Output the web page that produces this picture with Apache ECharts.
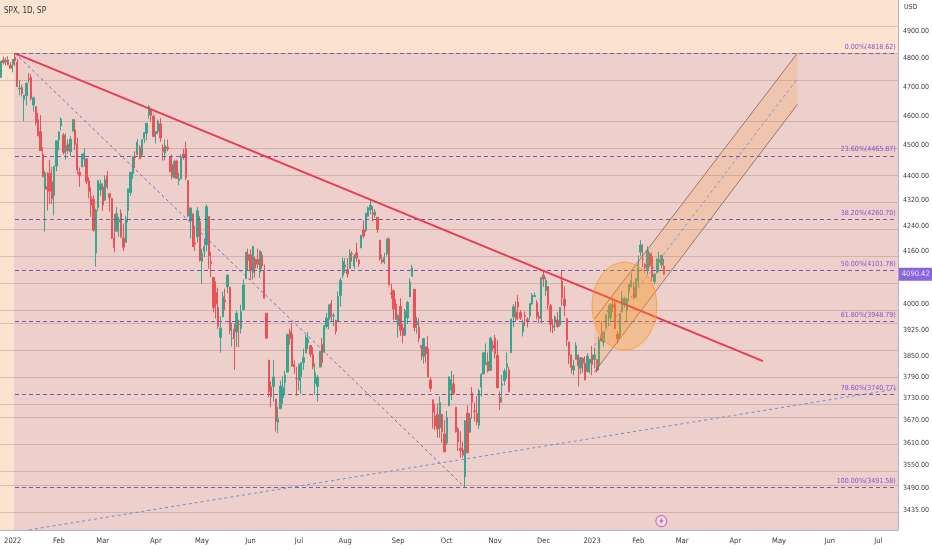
<!DOCTYPE html>
<html>
<head>
<meta charset="utf-8">
<script src="https://cdn.jsdelivr.net/npm/echarts@6/dist/echarts.min.js"></script>
<style>
html, body { margin: 0; padding: 0; background: #fff; }
#chart { width: 932px; height: 550px; }
</style>
</head>
<body>
<div id="chart"></div>
<script>
'use strict';

// SPX daily candles [open, close, low, high], 27 Dec 2021 .. 16 Feb 2023
var candles = [
    [4733,4791,4733,4791],[4795,4786,4778,4807],[4788,4793,4775,4804],[4795,4778,4776,4808],[4776,4766,4765,4787],
    // 2022 Jan
    [4778,4797,4751,4797],[4804,4793,4774,4819],[4787,4701,4700,4798],[4693,4696,4671,4725],[4698,4677,4667,4708],
    [4655,4670,4582,4673],[4670,4713,4636,4714],[4729,4726,4715,4749],[4733,4659,4653,4744],[4637,4662,4614,4666],
    [4632,4577,4568,4632],[4588,4533,4531,4611],[4547,4483,4483,4603],[4471,4398,4395,4495],[4357,4410,4222,4417],
    [4366,4356,4288,4412],[4408,4350,4309,4453],[4381,4326,4309,4429],[4337,4432,4273,4432],[4432,4516,4415,4516],
    // Feb
    [4519,4546,4484,4546],[4566,4589,4551,4595],[4535,4477,4470,4542],[4482,4501,4453,4540],[4505,4484,4473,4521],
    [4480,4521,4465,4531],[4548,4587,4548,4590],[4553,4504,4485,4589],[4506,4419,4407,4526],[4412,4401,4364,4427],
    [4429,4472,4429,4472],[4455,4475,4429,4490],[4456,4381,4373,4456],[4385,4349,4327,4395],[4332,4305,4268,4363],
    [4324,4226,4222,4337],[4155,4289,4114,4294],[4298,4385,4286,4385],[4354,4374,4335,4388],
    // Mar
    [4364,4306,4287,4375],[4322,4387,4319,4401],[4401,4364,4357,4416],[4342,4329,4285,4343],[4327,4201,4199,4327],
    [4202,4171,4157,4277],[4223,4278,4223,4299],[4253,4260,4206,4268],[4280,4204,4203,4292],[4202,4173,4162,4247],
    [4188,4262,4188,4272],[4288,4358,4251,4358],[4346,4412,4335,4412],[4407,4463,4390,4465],[4462,4461,4425,4481],
    [4469,4512,4469,4522],[4494,4456,4456,4501],[4469,4520,4465,4520],[4523,4543,4508,4546],[4541,4575,4517,4575],
    [4603,4632,4589,4637],[4624,4602,4581,4627],[4599,4530,4530,4604],
    // Apr
    [4540,4546,4507,4549],[4547,4583,4539,4587],[4573,4525,4513,4593],[4494,4481,4450,4504],[4475,4500,4451,4521],
    [4495,4488,4481,4520],[4462,4413,4412,4464],[4437,4397,4388,4471],[4394,4447,4392,4453],[4449,4392,4392,4453],
    [4385,4391,4370,4410],[4390,4463,4390,4471],[4472,4459,4453,4489],[4490,4394,4386,4513],[4385,4272,4268,4385],
    [4255,4296,4200,4300],[4278,4175,4175,4278],[4187,4183,4161,4240],[4206,4288,4187,4299],[4253,4132,4129,4270],
    // May
    [4130,4155,4062,4169],[4160,4175,4143,4200],[4181,4300,4160,4308],[4270,4147,4107,4270],[4129,4123,4082,4158],
    [4081,3991,3976,4081],[4035,4001,3958,4069],[3991,3935,3928,4050],[3903,3930,3859,3965],[3963,4023,3963,4038],
    [4013,4008,3983,4047],[4052,4088,4033,4090],[4051,3923,3912,4051],[3900,3901,3877,3946],[3927,3901,3810,3943],
    [3919,3974,3876,3981],[3942,3941,3875,3955],[3929,3979,3914,3999],[3984,4058,3984,4075],[4077,4158,4077,4158],
    [4151,4132,4100,4169],
    // Jun
    [4150,4101,4073,4166],[4096,4176,4074,4177],[4137,4109,4080,4143],[4135,4121,4108,4169],[4097,4161,4080,4164],
    [4148,4116,4107,4160],[4101,4018,4017,4120],[3974,3901,3900,3974],[3838,3750,3734,3838],[3763,3735,3706,3778],
    [3764,3790,3722,3838],[3729,3667,3640,3729],[3665,3675,3636,3707],[3702,3765,3702,3780],[3733,3760,3716,3792],
    [3775,3796,3743,3808],[3804,3912,3804,3914],[3920,3900,3882,3928],[3913,3821,3820,3945],[3826,3819,3799,3837],
    [3786,3785,3738,3819],
    // Jul
    [3781,3825,3752,3829],[3792,3831,3743,3832],[3831,3845,3810,3871],[3858,3903,3858,3910],[3888,3899,3870,3919],
    [3880,3855,3847,3880],[3854,3819,3812,3875],[3772,3802,3741,3829],[3764,3790,3722,3796],[3818,3863,3818,3864],
    [3883,3831,3818,3902],[3860,3937,3860,3940],[3935,3960,3929,3975],[3955,3999,3927,3999],[4003,3962,3951,4013],
    [3966,3967,3936,3975],[3953,3921,3911,3954],[3951,4024,3951,4039],[4026,4072,3993,4079],[4087,4130,4078,4141],
    // Aug
    [4113,4119,4094,4140],[4105,4091,4080,4140],[4108,4155,4108,4168],[4154,4152,4129,4161],[4115,4145,4107,4151],
    [4156,4140,4129,4187],[4133,4122,4112,4137],[4171,4210,4171,4211],[4227,4208,4201,4257],[4225,4280,4220,4280],
    [4270,4297,4268,4301],[4291,4305,4276,4325],[4281,4275,4254,4302],[4273,4284,4265,4293],[4267,4228,4218,4267],
    [4195,4138,4132,4195],[4134,4128,4122,4150],[4127,4141,4121,4156],[4153,4199,4147,4200],[4199,4058,4057,4204],
    [4034,4031,4017,4062],[4041,3986,3954,4044],[4001,3955,3954,4015],
    // Sep
    [3937,3967,3903,3971],[3994,3924,3907,4018],[3930,3909,3886,3942],[3910,3980,3907,3987],[3960,4006,3942,4010],
    [4022,4067,4022,4077],[4084,4110,4084,4119],[4045,3932,3921,4045],[3940,3946,3914,3962],[3932,3901,3889,3959],
    [3880,3873,3838,3880],[3849,3900,3828,3900],[3876,3856,3831,3876],[3871,3790,3790,3907],[3782,3758,3749,3790],
    [3727,3693,3648,3727],[3682,3655,3644,3716],[3686,3647,3624,3717],[3651,3719,3623,3736],[3687,3640,3610,3687],
    [3633,3586,3584,3672],
    // Oct
    [3610,3678,3604,3696],[3710,3791,3710,3791],[3753,3783,3726,3807],[3771,3744,3740,3797],[3706,3640,3637,3706],
    [3647,3612,3588,3652],[3595,3589,3570,3641],[3590,3577,3571,3613],[3520,3669,3492,3672],[3690,3583,3582,3712],
    [3638,3677,3638,3690],[3746,3720,3675,3762],[3696,3695,3667,3719],[3689,3666,3657,3737],[3657,3752,3647,3757],
    [3762,3797,3735,3801],[3799,3859,3799,3862],[3825,3831,3824,3886],[3834,3807,3803,3860],[3809,3901,3809,3905],
    [3881,3872,3863,3894],
    // Nov
    [3901,3856,3843,3911],[3852,3760,3759,3895],[3733,3720,3699,3750],[3767,3771,3719,3796],[3780,3807,3767,3814],
    [3818,3828,3785,3860],[3810,3749,3748,3818],[3859,3956,3859,3959],[3963,3993,3933,4001],[3977,3957,3950,4009],
    [4007,3992,3954,4028],[3976,3959,3954,3984],[3919,3947,3906,3955],[3967,3965,3936,3979],[3956,3950,3932,3962],
    [3966,4003,3956,4003],[4001,4027,3999,4034],[4023,4026,4023,4035],[4005,3964,3956,4013],[3965,3958,3945,3977],
    [3958,4080,3944,4080],
    // Dec
    [4087,4076,4052,4101],[4041,4072,4026,4081],[4053,3999,3984,4053],[3996,3941,3918,4001],[3937,3933,3916,3956],
    [3947,3963,3922,3967],[3954,3934,3933,3977],[3939,3991,3935,3991],[4069,4019,3996,4101],[4016,3996,3965,4053],
    [3958,3896,3879,3959],[3890,3852,3827,3890],[3853,3817,3800,3854],[3810,3822,3795,3839],[3840,3879,3840,3889],
    [3853,3822,3764,3853],[3815,3845,3798,3846],[3843,3829,3803,3846],[3829,3783,3780,3849],[3805,3849,3805,3858],
    [3829,3840,3800,3840],
    // 2023 Jan
    [3853,3825,3795,3878],[3840,3853,3815,3874],[3839,3808,3802,3840],[3823,3895,3809,3906],[3910,3893,3892,3951],
    [3889,3919,3877,3920],[3932,3970,3928,3970],[3977,3983,3937,3997],[3960,3999,3951,4003],[3999,3991,3977,4015],
    [4003,3929,3926,4015],[3912,3899,3886,3922],[3909,3973,3899,3973],[3979,4020,3975,4039],[4001,4017,3990,4023],
    [3982,4016,3950,4019],[4036,4060,4013,4061],[4053,4071,4050,4095],[4050,4018,4015,4066],[4020,4077,4020,4077],
    // Feb
    [4071,4119,4049,4148],[4158,4180,4145,4195],[4136,4136,4113,4183],[4120,4111,4094,4124],[4105,4164,4089,4176],
    [4153,4118,4112,4157],[4145,4082,4070,4157],[4068,4090,4061,4094],[4096,4137,4092,4138],[4127,4136,4096,4159],
    [4119,4148,4109,4149],[4115,4090,4088,4137]
];

var holidays = ['2022-01-17','2022-02-21','2022-04-15','2022-05-30','2022-06-20','2022-07-04','2022-09-05',
    '2022-11-24','2022-12-26','2023-01-02','2023-01-16','2023-02-20','2023-04-07','2023-05-29','2023-06-19','2023-07-04'];
var firstDay = '2021-12-27';
var barCount = 389;

var gridTicks = [5000, 4900, 4800, 4700, 4600, 4500, 4400, 4320, 4240, 4160, 4080, 4000, 3925, 3850, 3790, 3730, 3670, 3610, 3550, 3490, 3435];
var labelTicks = [4900, 4800, 4700, 4600, 4500, 4400, 4320, 4240, 4160, 4000, 3925, 3850, 3790, 3730, 3670, 3610, 3550, 3490, 3435];
var priceMin = 3383.7;
var priceMax = 5012.9;

// fib retracement (from 4 Jan 2022 high to 13 Oct 2022 low)
var fibLevels = [0, 0.236, 0.382, 0.5, 0.618, 0.786, 1];
var fibPrices = [4818.62, 4465.87, 4260.70, 4101.78, 3948.79, 3740.77, 3491.58];
var fibStart = 6;

// drawings, [bar index, price]
var trendRed = [[6, 4818.62], [330, 3835]];
var diagPurple = [[6, 4818.62], [201, 3491.58]];
var trendBlue = [[12, 3384], [388, 3757]];
var channelUpper = [[257, 3957], [345, 4820]];
var channelLower = [[257, 3804], [345, 4640]];
var ellipseBox = [[256.2, 4127], [284.4, 3867]];
var eventMark = [286, 3406];
var lastPrice = 4090.42;

var monthNames = ['Jan','Feb','Mar','Apr','May','Jun','Jul','Aug','Sep','Oct','Nov','Dec'];
var font = '"Liberation Sans Narrow", "DejaVu Sans Condensed", Roboto, sans-serif';

// trading day categories
function buildDays() {
    var days = [];
    var d = new Date(firstDay + 'T00:00:00Z');
    while (days.length < barCount) {
        var s = d.toISOString().slice(0, 10);
        var wd = d.getUTCDay();
        if (wd !== 0 && wd !== 6 && holidays.indexOf(s) < 0) days.push(s);
        d.setUTCDate(d.getUTCDate() + 1);
    }
    return days;
}
var days = buildDays();

var ln = Math.log;
function toLn(pts) {
    return pts.map(function (p) { return [p[0], ln(p[1])]; });
}

var chart = echarts.init(document.getElementById('chart'));

var fibLines = fibPrices.map(function (p, i) {
    return [{
        coord: [fibStart, ln(p)],
        label: { formatter: (fibLevels[i] * 100).toFixed(2) + '%(' + p.toFixed(2) + ')' }
    }, { coord: [barCount - 1, ln(p)] }];
});

function drawLine(name, pts, color, width, type) {
    return {
        name: name,
        type: 'line',
        data: toLn(pts),
        symbol: 'none',
        silent: true,
        z: 5,
        lineStyle: { color: color, width: width, type: type }
    };
}

var option = {
    backgroundColor: '#ffffff',
    animation: false,
    grid: { left: 0, right: 34, top: 0, bottom: 20, show: true, backgroundColor: '#fbe3d0', borderWidth: 0 },
    xAxis: {
        type: 'category',
        data: days,
        boundaryGap: true,
        axisLine: { show: true, lineStyle: { color: '#b2b5be' } },
        axisTick: { show: false },
        splitLine: { show: false },
        axisLabel: {
            color: '#3a3a3a',
            fontSize: 7.5,
            fontFamily: font,
            margin: 7,
            interval: function (i, v) {
                return i > 0 && v.slice(5, 7) !== days[i - 1].slice(5, 7);
            },
            formatter: function (v) {
                var m = +v.slice(5, 7);
                return m === 1 ? v.slice(0, 4) : monthNames[m - 1];
            }
        }
    },
    yAxis: {
        type: 'value',
        position: 'right',
        min: ln(priceMin),
        max: ln(priceMax),
        axisLine: { show: true, lineStyle: { color: '#b2b5be' } },
        axisTick: { show: false },
        splitLine: { show: false },
        axisLabel: {
            customValues: labelTicks.map(ln),
            color: '#3a3a3a',
            fontSize: 7,
            fontFamily: font,
            margin: 5,
            formatter: function (v) { return Math.exp(v).toFixed(2); }
        }
    },
    series: [
        {
            // fib background
            name: 'fibFill',
            type: 'custom',
            silent: true,
            z: 1,
            data: [[0]],
            renderItem: function (params, api) {
                var cs = params.coordSys;
                var p = api.coord([fibStart, ln(fibPrices[0])]);
                return {
                    type: 'rect',
                    shape: { x: p[0] - 1, y: p[1], width: cs.x + cs.width - p[0] + 1, height: cs.y + cs.height - p[1] },
                    style: { fill: '#edd0cb' }
                };
            }
        },
        {
            name: 'grid',
            type: 'line',
            data: [[0, ln(priceMin)]],
            symbol: 'none',
            lineStyle: { opacity: 0 },
            silent: true,
            z: 1,
            markLine: {
                silent: true,
                symbol: 'none',
                animation: false,
                label: { show: false },
                lineStyle: { color: 'rgba(160,120,115,0.35)', width: 1, type: 'solid' },
                data: gridTicks.map(function (t) { return { yAxis: ln(t) }; })
            }
        },
        {
            name: 'SPX',
            type: 'candlestick',
            z: 3,
            barWidth: 1.8,
            data: candles.map(function (r) { return r.map(ln); }),
            itemStyle: {
                color: '#38a68e', color0: '#ea5258',
                borderColor: '#38a68e', borderColor0: '#ea5258',
                borderWidth: 1
            }
        },
        {
            name: 'fib',
            type: 'line',
            data: [[0, ln(priceMin)]],
            symbol: 'none',
            lineStyle: { opacity: 0 },
            silent: true,
            z: 4,
            markLine: {
                silent: true,
                symbol: 'none',
                animation: false,
                lineStyle: { color: '#7a5aa8', width: 1, type: [4, 3] },
                label: {
                    show: true,
                    position: 'insideEndTop',
                    color: '#8a4fd0',
                    fontSize: 7,
                    fontFamily: font,
                    distance: [1, 3]
                },
                data: fibLines
            }
        },
        {
            // parallel channel
            name: 'channel',
            type: 'custom',
            silent: true,
            z: 4,
            data: [[0]],
            renderItem: function (params, api) {
                var u0 = api.coord([channelUpper[0][0], ln(channelUpper[0][1])]);
                var u1 = api.coord([channelUpper[1][0], ln(channelUpper[1][1])]);
                var l0 = api.coord([channelLower[0][0], ln(channelLower[0][1])]);
                var l1 = api.coord([channelLower[1][0], ln(channelLower[1][1])]);
                var m0 = [(u0[0] + l0[0]) / 2, (u0[1] + l0[1]) / 2];
                var m1 = [(u1[0] + l1[0]) / 2, (u1[1] + l1[1]) / 2];
                return {
                    type: 'group',
                    children: [
                        { type: 'polygon', shape: { points: [u0, u1, l1, l0] }, style: { fill: 'rgba(255,140,40,0.17)' } },
                        { type: 'line', shape: { x1: u0[0], y1: u0[1], x2: u1[0], y2: u1[1] }, style: { stroke: 'rgba(140,95,80,0.8)', lineWidth: 1 } },
                        { type: 'line', shape: { x1: l0[0], y1: l0[1], x2: l1[0], y2: l1[1] }, style: { stroke: 'rgba(140,95,80,0.8)', lineWidth: 1 } },
                        { type: 'line', shape: { x1: m0[0], y1: m0[1], x2: m1[0], y2: m1[1] }, style: { stroke: '#7f9bc8', lineWidth: 1, lineDash: [3, 3] } }
                    ]
                };
            }
        },
        drawLine('trend', trendRed, '#ea3a52', 2, 'solid'),
        drawLine('diag', diagPurple, '#7a69b6', 1, [3, 3]),
        drawLine('support', trendBlue, '#6f8fd0', 1, [3, 3]),
        {
            name: 'ellipse',
            type: 'custom',
            silent: true,
            z: 6,
            data: [[0]],
            renderItem: function (params, api) {
                var a = api.coord([ellipseBox[0][0], ln(ellipseBox[0][1])]);
                var b = api.coord([ellipseBox[1][0], ln(ellipseBox[1][1])]);
                return {
                    type: 'ellipse',
                    shape: { cx: (a[0] + b[0]) / 2, cy: (a[1] + b[1]) / 2, rx: Math.abs(b[0] - a[0]) / 2, ry: Math.abs(b[1] - a[1]) / 2 },
                    style: { fill: 'rgba(255,150,20,0.3)', stroke: 'rgba(245,160,60,0.9)', lineWidth: 1 }
                };
            }
        },
        {
            name: 'event',
            type: 'scatter',
            silent: true,
            z: 6,
            data: [[eventMark[0], ln(eventMark[1])]],
            symbol: 'circle',
            symbolSize: 11,
            itemStyle: { color: 'rgba(255,255,255,0.35)', borderColor: '#a43fd0', borderWidth: 1 }
        },
        {
            name: 'eventBolt',
            type: 'scatter',
            silent: true,
            z: 7,
            data: [[eventMark[0], ln(eventMark[1])]],
            symbol: 'path://M6,0 L1,7 L4.5,7 L3,12 L9,4.5 L5.5,4.5 L7,0 Z',
            symbolSize: [4, 7],
            itemStyle: { color: '#a43fd0' }
        },
        {
            // last price tag on the price scale
            name: 'lastPrice',
            type: 'scatter',
            silent: true,
            clip: false,
            z: 10,
            data: [[barCount - 1, ln(lastPrice)]],
            symbolSize: 1,
            itemStyle: { color: 'rgba(0,0,0,0)' },
            label: {
                show: true,
                position: 'right',
                distance: 1.5,
                formatter: lastPrice.toFixed(2),
                color: '#fff',
                backgroundColor: '#6c3fd6',
                padding: [3, 3, 2, 3],
                fontSize: 7.5,
                fontFamily: font
            }
        }
    ],
    graphic: [
        { type: 'text', left: 4, top: 7, silent: true, style: { text: 'SPX, 1D, SP', fill: '#333', font: '8px ' + font } },
        { type: 'text', left: 904, top: 4, silent: true, style: { text: 'USD', fill: '#3a3a3a', font: '7px ' + font } }
    ]
};

chart.setOption(option);
</script>
</body>
</html>
